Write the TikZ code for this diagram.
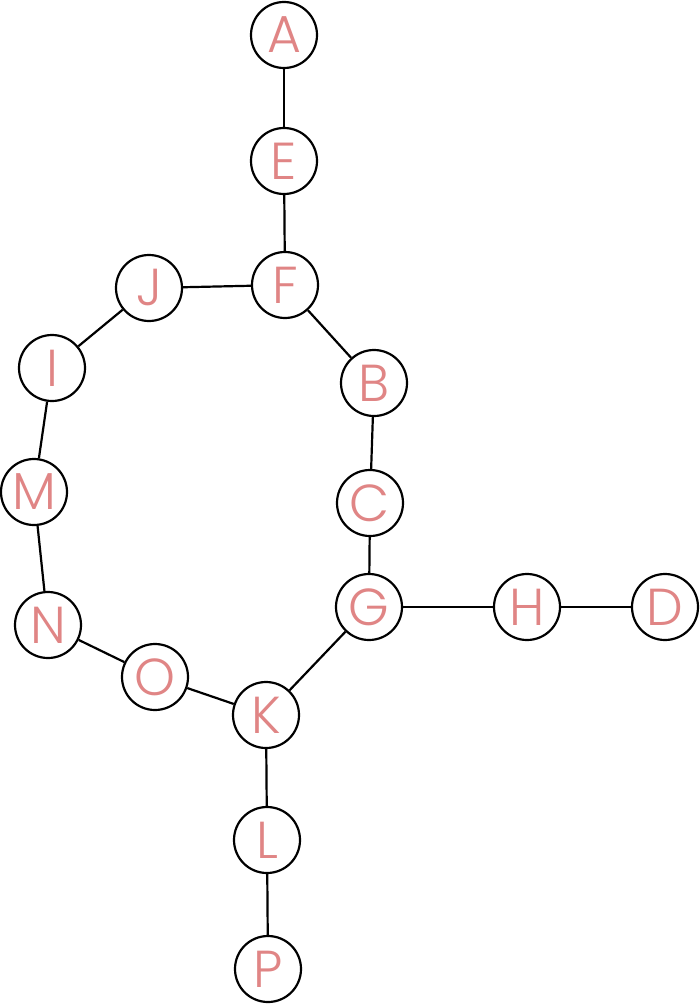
\documentclass[tikz,border=0pt]{standalone}
\usepackage{fontspec}
\newfontfamily\letterfont{Poppins Light}
\definecolor{letterPink}{HTML}{E08585}

\begin{document}
\begin{tikzpicture}
[x=1pt,y=-1pt,%
  plainEdge/.style={line width=2.2pt,color=black},%
  nodeDecorate/.style={shape=circle,minimum size=66pt,inner sep=0pt,draw,line width=2.2pt,fill=white,
    font=\letterfont\fontsize{52}{52}\selectfont,text=letterPink}]
\useasboundingbox (0,0) rectangle (700,1006);
%% nodes or vertices
\foreach \nodename/\x/\y in {A/284/35, E/284/161, F/285/285, J/149/288, I/52/368,
  M/34/492, N/48/625, O/155/677, K/266/715, L/267/840, P/268/969,
  G/369/607, C/370/503, B/374/383, H/527/607, D/665/607}
{
  \node (\nodename) at (\x,\y) [nodeDecorate] {\nodename};
}
%% edges or lines
\path
\foreach \startnode/\endnode in {A/E, E/F, F/J, J/I, I/M, M/N, N/O, O/K,
  K/L, L/P, F/B, B/C, C/G, G/K, G/H, H/D}
{
  (\startnode) edge[plainEdge] node {} (\endnode)
};
\end{tikzpicture}
\end{document}
